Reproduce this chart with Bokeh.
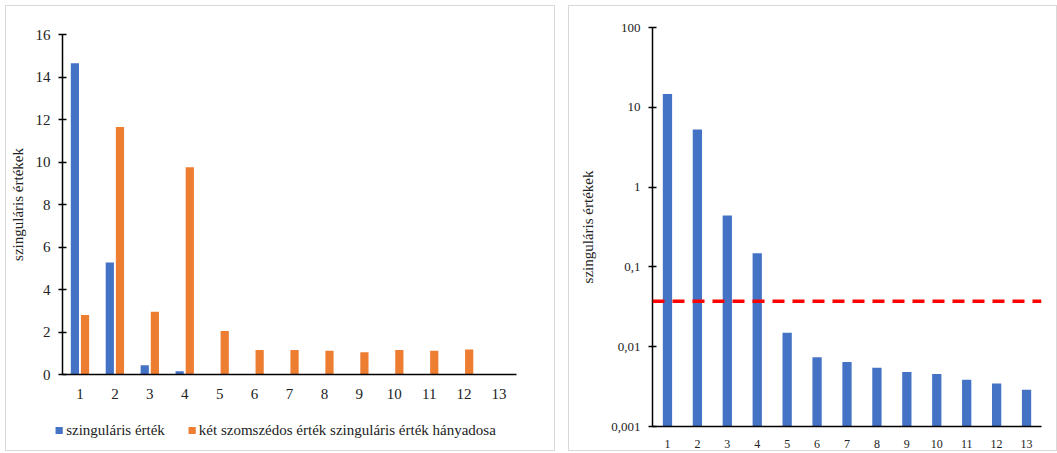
from bokeh.plotting import figure
from bokeh.models import (ColumnDataSource, FactorRange, Range1d, FixedTicker, Legend,
                          LegendItem, Span)
from bokeh.transform import dodge
from bokeh.embed import file_html
from bokeh.resources import INLINE

# ---- data ----
categories = [str(i) for i in range(1, 14)]
singular_values = [14.65, 5.27, 0.44, 0.148, 0.0150, 0.00736, 0.00641, 0.00544,
                   0.00481, 0.00454, 0.00385, 0.00347, 0.00289]
ratio_categories = [str(i) for i in range(1, 13)]
neighbour_ratio = [2.80, 11.65, 2.95, 9.75, 2.05, 1.15, 1.15, 1.12, 1.05, 1.15, 1.12, 1.18]
threshold = 0.037
left_y_ticks = [0, 2, 4, 6, 8, 10, 12, 14, 16]
right_y_ticks = [0.001, 0.01, 0.1, 1, 10, 100]
right_y_tick_labels = ["0,001", "0,01", "0,1", "1", "10", "100"]
y_label = "szinguláris értékek"
legend_labels = ["szinguláris érték", "két szomszédos érték szinguláris érték hányadosa"]

BLUE = "#4472C4"
ORANGE = "#ED7D31"
FONT = "Liberation Serif"
LEGEND_FONT = "Times New Roman"


def panel_style(left, top, border=True):
    s = {"position": "absolute", "left": f"{left}px", "top": f"{top}px",
         "box-sizing": "border-box"}
    if border:
        s["border"] = "1px solid #d9d9d9"
    return s


# ---- left chart ----
p1 = figure(x_range=FactorRange(*categories, range_padding=0), y_range=Range1d(0, 16),
            title=None, width=550, height=446,
            min_border_left=56, min_border_right=40, min_border_top=28, min_border_bottom=78,
            output_backend="svg", toolbar_location=None)
p1.styles = panel_style(5, 5)

src_sv = ColumnDataSource(dict(x=categories, y=singular_values))
src_ratio = ColumnDataSource(dict(x=ratio_categories, y=neighbour_ratio))
p1.vbar(x=dodge("x", -0.145, range=p1.x_range), top="y", width=0.235, source=src_sv,
        color=BLUE, line_color=None)
p1.vbar(x=dodge("x", 0.145, range=p1.x_range), top="y", width=0.235, source=src_ratio,
        color=ORANGE, line_color=None)

p1.grid.visible = False
p1.outline_line_color = None
p1.yaxis.ticker = FixedTicker(ticks=left_y_ticks)
p1.yaxis.minor_tick_line_color = None
p1.yaxis.major_tick_in = 4
p1.yaxis.major_tick_out = 4
p1.yaxis.major_label_standoff = 8
p1.yaxis.axis_label = y_label
p1.yaxis.axis_label_standoff = 7
for ax in (p1.xaxis, p1.yaxis):
    ax.axis_line_color = "black"
    ax.axis_line_width = 1.5
    ax.major_tick_line_color = "black"
    ax.major_tick_line_width = 1.5
    ax.major_label_text_font = FONT
    ax.major_label_text_font_size = "15px"
    ax.major_label_text_color = "#222222"
    ax.axis_label_text_font = FONT
    ax.axis_label_text_font_size = "15px"
    ax.axis_label_text_font_style = "normal"
    ax.axis_label_text_color = "#222222"
p1.xaxis.major_tick_line_color = None
p1.xaxis.major_label_standoff = 8

# ---- legend of the left chart (own small canvas, below the left chart's axis) ----
p3 = figure(x_range=Range1d(0, 1), y_range=Range1d(0, 1), width=470, height=28,
            title=None, x_axis_type=None, y_axis_type=None,
            min_border_left=0, min_border_right=0, min_border_top=0, min_border_bottom=0,
            output_backend="svg", toolbar_location=None)
p3.styles = panel_style(40, 416, border=False)
p3.grid.visible = False
p3.outline_line_color = None
p3.background_fill_alpha = 0
p3.border_fill_alpha = 0
# zero-height placeholder bars: they only provide the legend swatches
lr1 = p3.vbar(x=[0.5], top=[0], bottom=[0], width=0.1, color=BLUE, line_color=None)
lr2 = p3.vbar(x=[0.5], top=[0], bottom=[0], width=0.1, color=ORANGE, line_color=None)
legend = Legend(items=[LegendItem(label=legend_labels[0], renderers=[lr1]),
                       LegendItem(label=legend_labels[1], renderers=[lr2])],
                location="center", orientation="horizontal",
                label_text_font=LEGEND_FONT, label_text_font_style="normal",
                label_text_font_size="15px", label_text_color="#222222",
                glyph_width=9, glyph_height=9, spacing=22, label_standoff=3, label_height=16,
                border_line_color=None, background_fill_alpha=0, padding=0, margin=0)
p3.add_layout(legend, "center")

# ---- right chart ----
p2 = figure(x_range=FactorRange(*categories, range_padding=0),
            y_range=Range1d(right_y_ticks[0], right_y_ticks[-1]), y_axis_type="log",
            title=None, width=489, height=446,
            min_border_left=83, min_border_right=17, min_border_top=21, min_border_bottom=26,
            output_backend="svg", toolbar_location=None)
p2.styles = panel_style(568, 5)

src2 = ColumnDataSource(dict(x=categories, y=singular_values))
p2.vbar(x="x", top="y", bottom=right_y_ticks[0], width=0.31, source=src2,
        color=BLUE, line_color=None)
p2.add_layout(Span(location=threshold, dimension="width", line_color="#FF0000",
                   line_width=3.5, line_dash="12 8"))

p2.grid.visible = False
p2.outline_line_color = None
p2.yaxis.ticker = FixedTicker(ticks=right_y_ticks, minor_ticks=[])
p2.yaxis.major_label_overrides = {t: l for t, l in zip(right_y_ticks, right_y_tick_labels)}
p2.yaxis.minor_tick_line_color = None
p2.yaxis.major_tick_in = 4
p2.yaxis.major_tick_out = 4
p2.yaxis.major_label_standoff = 8
p2.yaxis.axis_label = y_label
p2.yaxis.axis_label_standoff = 12
for ax in (p2.xaxis, p2.yaxis):
    ax.axis_line_color = "black"
    ax.axis_line_width = 1.5
    ax.major_tick_line_color = "black"
    ax.major_tick_line_width = 1.5
    ax.major_label_text_font = FONT
    ax.major_label_text_font_size = "13px"
    ax.major_label_text_color = "#222222"
    ax.axis_label_text_font = FONT
    ax.axis_label_text_font_size = "15px"
    ax.axis_label_text_font_style = "normal"
    ax.axis_label_text_color = "#222222"
p2.xaxis.major_tick_line_color = None
p2.xaxis.major_label_text_font_size = "12px"
p2.xaxis.major_label_standoff = 7

open("out.html", "w").write(file_html([p1, p3, p2], INLINE))
